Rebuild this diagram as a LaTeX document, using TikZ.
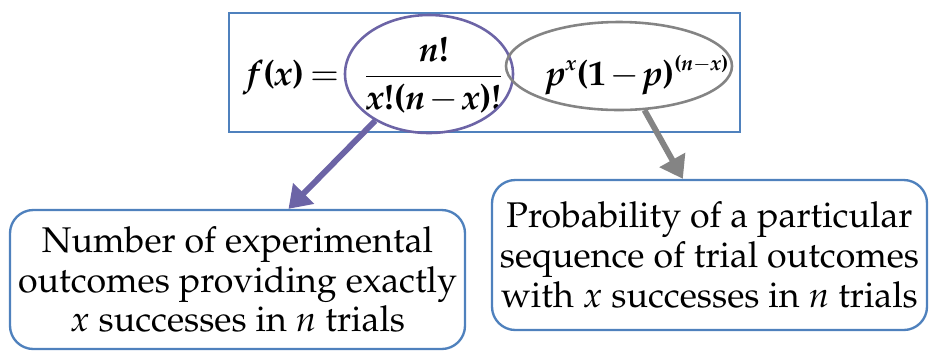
\documentclass[tikz,border=0pt]{standalone}
\usepackage[T1]{fontenc}
\usepackage{mathpazo}
\usepackage{amsmath}
\definecolor{boxblue}{RGB}{79,129,189}
\definecolor{lilac}{RGB}{108,100,166}
\definecolor{midgray}{RGB}{132,132,132}
\usetikzlibrary{arrows.meta, shapes.geometric, calc}
\newcommand{\bv}[1]{\textbf{\textit{#1}}}
\newcommand{\bu}[1]{\textbf{#1}}
\tikzset{
	formbox/.style={rectangle, draw=boxblue, line width=2pt, minimum width=15.33cm, minimum height=3.57cm, inner sep=0pt},
	formula/.style={font=\fontsize{30}{34}\selectfont, inner sep=0pt, anchor=west},
	note/.style={rectangle, rounded corners=0.7cm, draw=boxblue, line width=2pt, align=center, inner sep=0pt, font=\fontsize{30.5}{34}\selectfont},
	ring/.style={ellipse, line width=2.2pt, inner sep=0pt},
	fatarrow/.style={-{Triangle[length=0.65cm, width=0.85cm]}, line width=5pt},
}

\begin{document}
\begin{tikzpicture}[x=0.03cm, y=-0.03cm]
		\useasboundingbox (0,0) rectangle (929,351);
		% formula
		\node[formula] (eq) at (247,75) {\medmuskip=2mu\thickmuskip=3mu$\displaystyle \bv{f}\bu{(}\bv{x}\bu{)}=\hspace{0.6cm}\frac{\bv{n}\bu{!}}{\bv{x}\bu{!(}\bv{n}-\bv{x}\bu{)!}}\hspace{1.3cm}\bv{p}^{\scriptscriptstyle\bv{x}}\bu{(1}-\bv{p}\bu{)}^{\scriptscriptstyle\bu{(}\bv{n}-\bv{x}\bu{)}}$};
		\node[formbox] (form) at (484.5,72.5) {};
		\node[ring, draw=lilac, minimum width=5.04cm, minimum height=3.54cm] (comb) at (429,74) {};
		\node[ring, draw=midgray, minimum width=6.78cm, minimum height=2.64cm] (prob) at (619,66) {};
		% explanations
		\node[note, minimum width=13.65cm, minimum height=4.17cm] (count) at (237.5,279.5) {Number of experimental\\outcomes providing exactly\\$x$ successes in $n$ trials};
		\node[note, minimum width=13.05cm, minimum height=4.5cm] (seq) at (709.5,255) {Probability of a particular\\sequence of trial outcomes\\with $x$ successes in $n$ trials};
		% arrows
		\draw[fatarrow, draw=lilac, fill=lilac] (comb.221) -- ([xshift=1.53cm]count.north);
		\draw[fatarrow, draw=midgray, fill=midgray] (prob.300) -- ([xshift=-0.8cm]seq.north);
	\end{tikzpicture}
\end{document}
